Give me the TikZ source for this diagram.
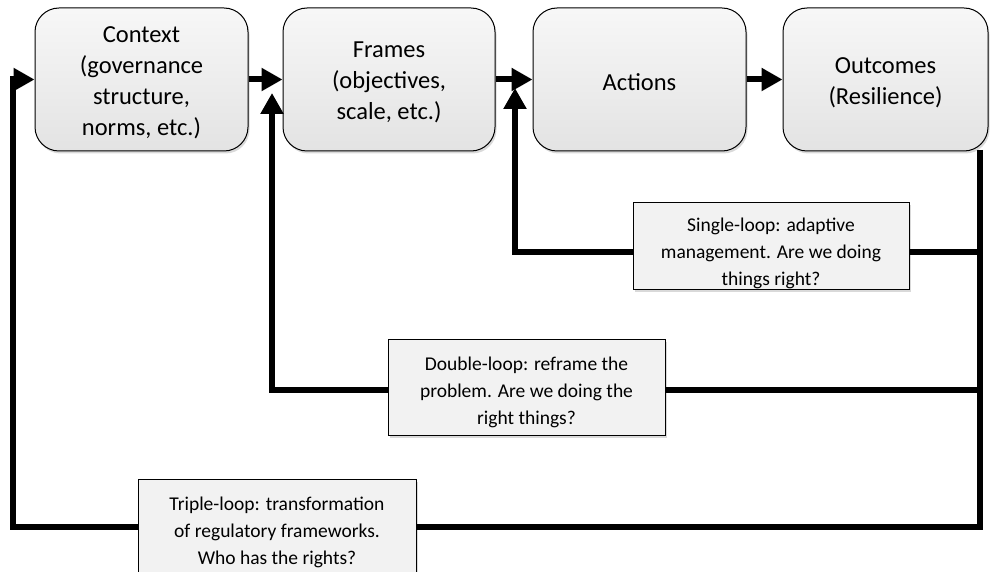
\documentclass[tikz,border=0pt]{standalone}
\usepackage{fontspec}
\setmainfont{Carlito}
\usetikzlibrary{arrows.meta,shadows}
% invisible strut that lowers a label's text block a little
\newcommand{\topgap}[1]{\rule{0pt}{#1}}
\begin{document}
\begin{tikzpicture}[x=1pt,y=-1pt,
  stage/.style={draw=black, line width=1pt, rounded corners=24pt,
    top color=gray!6, bottom color=gray!22,
    minimum height=143pt, inner sep=0pt, align=center,
    font=\fontsize{24.5}{31}\selectfont,
    drop shadow={opacity=0.3, shadow xshift=1.5pt, shadow yshift=-2.5pt}},
  loopbox/.style={draw=black, line width=1pt, fill=gray!10,
    inner sep=0pt, align=center,
    font=\fontsize{19.5}{27}\selectfont,
    drop shadow={opacity=0.3, shadow xshift=1.5pt, shadow yshift=-2.5pt}},
  flow/.style={line width=6pt, -{Triangle[length=21pt,width=22pt]}},
  fback/.style={line width=6pt}
]
\useasboundingbox (0,0) rectangle (990,572);
\clip (0,0) rectangle (990,572);

% stages of the chain
\node[stage, minimum width=213pt] (ctx) at (141.5,79.5)
  {\topgap{22pt}Context\\(governance\\structure,\\norms, etc.)};
\node[stage, minimum width=212pt] (frm) at (389,79.5)
  {\topgap{22pt}Frames\\(objectives,\\scale, etc.)};
\node[stage, minimum width=213pt] (act) at (639.5,79.5) {\topgap{22pt}Actions};
\node[stage, minimum width=205pt] (out) at (885.5,79.5)
  {\topgap{22pt}Outcomes\\(Resilience)};

% learning loop labels
\node[loopbox, minimum width=276pt, minimum height=86pt] (sgl) at (771,246)
  {\topgap{28pt}Single-loop: adaptive\\management. Are we doing\\things right?};
\node[loopbox, minimum width=277pt, minimum height=96pt] (dbl) at (526.5,387)
  {\topgap{25pt}Double-loop: reframe the\\problem. Are we doing the\\right things?};
\node[loopbox, minimum width=278pt, minimum height=98pt] (trp) at (277,528)
  {\topgap{23pt}Triple-loop: transformation\\of regulatory frameworks.\\Who has the rights?};

% forward chain
\draw[flow] (ctx.east) -- (frm.west);
\draw[flow] (frm.east) -- (act.west);
\draw[flow] (act.east) -- (out.west);

% feedback junctions and arrow tips
\coordinate (rtop) at (980,150);
\coordinate (jS) at (980,252);
\coordinate (jD) at (980,390);
\coordinate (jT) at (980,527);
\coordinate (tipS) at (515,88);
\coordinate (tipD) at (272,93);
\coordinate (cornerT) at (13,527);

% return line from outcomes
\draw[fback] (rtop) |- (jT -| trp.east);
\draw[fback] (jS) -- (jS -| sgl.east);
\draw[fback] (jD) -- (jD -| dbl.east);

% single, double and triple loops
\draw[flow] (jS -| sgl.west) -| (tipS);
\draw[flow] (jD -| dbl.west) -| (tipD);
\draw[flow] (jT -| trp.west) -- (cornerT) |- (ctx.west);
\end{tikzpicture}
\end{document}
